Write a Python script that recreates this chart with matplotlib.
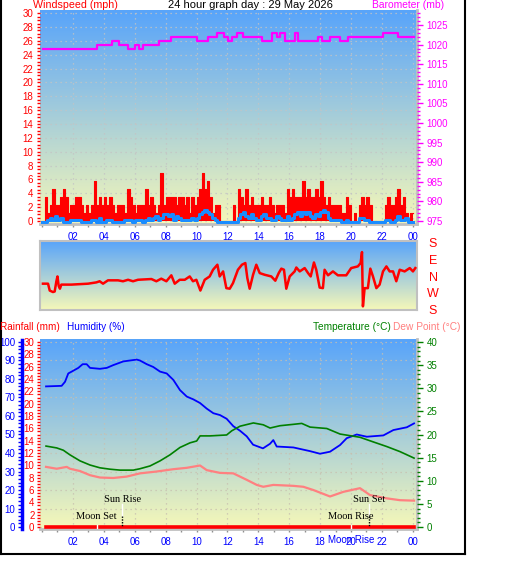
import numpy as np
import matplotlib
matplotlib.use("Agg")
import matplotlib.pyplot as plt
from matplotlib.ticker import MultipleLocator, FixedLocator
from matplotlib.colors import LinearSegmentedColormap
from matplotlib.lines import Line2D

plt.rcParams['font.family'] = ['Liberation Sans', 'DejaVu Sans']

# ---------------- data (hours of the day) ----------------
# wind gusts, 10-minute samples, in knots (chart shows mph)
GUST_KT = [
    0, 3, 1, 2, 4, 2,   # 00
    2, 3, 4, 3, 1, 2,   # 01
    2, 3, 3, 2, 1, 2,   # 02
    1, 2, 5, 2, 3, 2,   # 03
    3, 2, 3, 2, 1, 2,   # 04
    2, 2, 1, 4, 3, 2,   # 05
    1, 2, 2, 2, 4, 2,   # 06
    3, 2, 1, 2, 6, 2,   # 07
    3, 3, 3, 3, 2, 3,   # 08
    3, 2, 3, 1, 3, 2,   # 09
    3, 4, 6, 4, 5, 3,   # 10
    1, 2, 2, 0, 0, 0,   # 11
    0, 0, 2, 0, 4, 3,   # 12
    2, 4, 2, 3, 2, 2,   # 13
    2, 3, 2, 2, 3, 2,   # 14
    1, 2, 2, 2, 1, 4,   # 15
    3, 4, 3, 3, 3, 5,   # 16
    3, 4, 3, 3, 4, 3,   # 17
    5, 3, 2, 3, 2, 2,   # 18
    2, 2, 1, 1, 3, 2,   # 19
    0, 1, 0, 2, 3, 2,   # 20
    3, 2, 0, 0, 0, 0,   # 21
    0, 2, 3, 2, 2, 3,   # 22
    4, 2, 3, 1, 0, 1,   # 23
]
KT_TO_MPH = 1.1508

# average wind speed, 10-minute samples, mph
AVG_MPH = [
    0, 0, 0.3, 0.6, 0.3, 0.9,
    0.3, 0.6, 0, 0, 0, 0.3,
    0.3, 0.3, 0.3, 0, 0, 0,
    0, 0.3, 0.3, 0, 0.6, 0,
    0, 0.3, 0.3, 0, 0, 0,
    0, 0, 0.3, 0.3, 0.3, 0,
    0.3, 0.3, 0.3, 0, 0.3, 0.6,
    0.3, 0.6, 0.9, 0.3, 0.6, 1.2,
    1.2, 0.9, 1.2, 0.3, 0.9, 0.6,
    0.3, 0.3, 0.3, 0.3, 0.6, 0.3,
    0.6, 1.2, 1.5, 1.8, 1.5, 1.2,
    0.6, 0.3, 0, 0, 0, 0,
    0, 0, 0, 0, 0.6, 1.2,
    1.5, 0.9, 0.6, 1.2, 0.6, 0.3,
    0.3, 0.9, 1.2, 0.6, 0.6, 0.3,
    0.3, 0.9, 0.6, 0.3, 0.3, 0.9,
    0.3, 0.6, 1.2, 1.5, 0.9, 1.5,
    1.2, 1.5, 0.9, 0.6, 1.2, 0.9,
    1.5, 1.8, 1.5, 0.6, 0.3, 0.3,
    0.3, 0.3, 0, 0, 0.3, 0,
    0, 0, 0, 0.6, 0.6, 0.3,
    0.3, 0, 0, 0, 0, 0,
    0, 0.3, 0.3, 0, 0, 0.3,
    0.9, 0.3, 0.3, 0.6, 0, 0,
]

# barometer steps (start hour, mb)
BARO_T = [0.06, 3.56, 4.53, 4.98, 5.57, 6.02, 6.28, 6.54, 7.57, 8.35, 10.03,
          10.74, 11.33, 11.78, 12.04, 12.3, 12.62, 13.0, 14.24, 14.89, 15.2,
          15.4, 15.73, 16.38, 16.57, 17.86, 18.12, 18.64, 19.29, 19.81, 22.07,
          23.04, 24.1]
BARO_MB = [1019, 1020, 1021, 1020, 1019, 1020, 1019, 1020, 1021, 1022, 1021,
           1022, 1023, 1022, 1021, 1022, 1023, 1022, 1021, 1023, 1022,
           1023, 1021, 1023, 1021, 1022, 1021, 1022, 1021, 1022, 1023,
           1022, 1022]

# wind direction (hour, compass bearing)
DIR_T = [0.06, 0.39, 0.5, 0.71, 0.82, 0.93, 1.0, 1.08, 1.16, 1.25, 1.9, 2.98,
         3.52, 3.73, 3.95, 4.27, 4.92, 5.24, 5.57, 5.89, 6.21, 7.08, 7.4, 7.72,
         8.05, 8.37, 8.59, 8.91, 9.24, 9.56, 9.77, 9.99, 10.25, 10.53, 10.85,
         11.07, 11.35, 11.5, 11.72, 11.93, 12.15, 12.36, 12.68, 12.94, 13.16,
         13.29, 13.44, 13.66, 13.87, 14.09, 14.41, 14.84, 15.1, 15.32, 15.49,
         15.66, 15.81, 16.03, 16.35, 16.46, 16.68, 17.0, 17.22, 17.39, 17.6,
         17.75, 17.97, 18.18, 18.29, 18.51, 18.83, 19.15, 19.69, 20.01, 20.44,
         20.62, 20.71, 20.77, 20.88, 21.09, 21.25, 21.42, 21.64, 21.85, 22.07,
         22.29, 22.5, 22.72, 22.93, 23.15, 23.47, 23.8, 24.01, 24.16]
DIR_DEG = [327, 327, 290, 282, 285, 340, 6, 315, 300, 322, 322, 327,
           334, 340, 327, 345, 345, 340, 348, 340, 348, 352, 340, 354,
           340, 12, 327, 348, 348, 6, 340, 348, 290, 348, 6,
           42, 69, 6, 33, 303, 300, 330, 42, 69, 78,
           357, 300, 15, 69, 24, 15, 6, 343, 24, 48,
           42, 300, 6, 33, 54, 33, 51, 24, 6, 81,
           42, 306, 303, 42, 12, 33, 12, 12, 51, 60,
           78, 137, 205, 303, 303, 48, 6, 303, 322, 33,
           60, 33, 33, 340, 42, 33, 51, 33, 51]

# humidity (%)
HUM_T = [0.26, 1.27, 1.49, 1.7, 1.92, 2.35, 2.63, 2.89, 3.11, 3.75, 4.19, 4.61,
         5.26, 6.13, 6.34, 6.78, 7.2, 7.64, 8.07, 8.5, 8.93, 9.37, 9.79, 10.23,
         10.66, 11.09, 11.52, 11.95, 12.38, 12.82, 13.25, 13.66, 14.3, 14.76,
         14.97, 15.19, 16.27, 17.35, 17.99, 18.64, 19.29, 19.72, 20.37, 21.02,
         22.09, 22.74, 23.61, 24.08]
HUM = [76, 76.3, 78.5, 83, 84, 86, 88, 88, 86, 85.5, 86, 87.5,
       89.5, 90.5, 90, 88, 86.5, 84, 83, 79.5, 74, 70.5, 69, 67,
       64, 61.5, 60.5, 58.5, 54.5, 52, 49, 44.5, 42.5, 45,
       47, 43.5, 43, 41, 39.6, 40.7, 44.3, 48, 50, 48.8,
       49.5, 52.4, 53.9, 56]

# temperature (deg C)
TEMP_T = [0.26, 0.95, 1.38, 1.81, 2.46, 3.11, 3.75, 4.4, 5.05, 5.91, 6.34, 6.99,
          7.64, 8.28, 8.93, 9.58, 10.01, 10.23, 10.87, 11.95, 12.28, 12.82,
          13.68, 14.32, 14.76, 15.4, 16.27, 16.81, 17.35, 18.43, 19.29, 20.58,
          21.44, 22.31, 23.17, 24.08]
TEMP = [17.5, 17.1, 16.6, 15.6, 14.3, 13.4, 12.8, 12.5, 12.3, 12.3, 12.6, 13.2,
        14.3, 15.6, 17.2, 18.2, 18.6, 19.7, 19.7, 19.9, 20.8, 21.8,
        22.5, 22.1, 21.4, 21.9, 22.2, 22.4, 21.6, 21.3, 20.1, 19.4,
        18.4, 17.4, 16.3, 14.9]

# dew point (deg C)
DEW_T = [0.26, 0.95, 1.6, 1.81, 2.46, 3.11, 3.75, 4.61, 5.48, 6.34, 7.42, 8.5,
         9.37, 10.23, 10.66, 11.52, 12.38, 13.25, 13.9, 14.32, 14.97, 16.27,
         16.91, 17.56, 18.64, 19.5, 20.58, 21.23, 22.31, 23.17, 24.08]
DEW = [13.0, 12.6, 13.0, 12.6, 12.1, 11.2, 10.7, 10.6, 10.9, 11.6, 12.0, 12.5,
       12.8, 13.3, 12.3, 11.7, 11.6, 10.2, 9.1, 8.7, 9.1, 8.9,
       8.7, 8.0, 6.6, 7.6, 8.4, 6.9, 6.2, 5.8, 5.7]

# rainfall (mm)
RAIN_T = [0.26, 24.08]
RAIN_MM = [0, 0]

# sun / moon events (hour)
SUN_EVENTS = [("Sun Rise", 5.2), ("Sun Set", 21.18)]
MOON_EVENTS = [("Moon Set", 3.54), ("Moon Rise", 19.98)]

HOUR_TICKS = list(range(2, 25, 2))
HOUR_LABELS = ["02", "04", "06", "08", "10", "12", "14", "16", "18", "20", "22", "00"]

# ---------------- drawing ----------------
W, H = 529, 563
fig = plt.figure(figsize=(W / 100, H / 100), dpi=100)
XLIM = (-0.13, 24.27)


def panel(x0, y0, x1, y1):
    return fig.add_axes([x0 / W, 1 - y1 / H, (x1 - x0) / W, (y1 - y0) / H])


def ftext(x, y, s, **kw):
    fig.text(x / W, 1 - y / H, s, va='center', **kw)


sky = LinearSegmentedColormap.from_list("sky", ["#f6f8b8", "#58a4fa"])


def backdrop(ax):
    ax.imshow(np.linspace(0, 1, 256).reshape(-1, 1), cmap=sky, origin='lower',
              aspect='auto', extent=(0, 1, 0, 1), transform=ax.transAxes, zorder=0)


def hour_axis(ax):
    ax.set_xlim(XLIM)
    ax.xaxis.set_major_locator(FixedLocator(HOUR_TICKS))
    ax.set_xticklabels(HOUR_LABELS)
    ax.xaxis.set_minor_locator(MultipleLocator(1))
    ax.tick_params(axis='x', which='both', colors='#909090', length=2.5, width=1,
                   labelcolor='#0000ff', labelsize=7, pad=3)


def frame(ax):
    for s in ax.spines.values():
        s.set_visible(False)
    ax.spines['right'].set_visible(True)
    ax.spines['bottom'].set_visible(True)
    ax.spines['right'].set_color('#c0c0c0')
    ax.spines['bottom'].set_color('#c0c0c0')
    ax.spines['right'].set_linewidth(2)
    ax.spines['bottom'].set_linewidth(2)


GRID = dict(ls=(0, (1, 3)), lw=0.9)

# --- wind / barometer ---
ax1 = panel(40, 10, 417, 224)
backdrop(ax1)
t10 = np.append(np.arange(len(GUST_KT)) / 6, 24.0)
gust = np.append(np.array(GUST_KT) * KT_TO_MPH, GUST_KT[-1] * KT_TO_MPH)
avg = np.append(AVG_MPH, AVG_MPH[-1])
ax1.fill_between(t10, 0, gust, step='post', color='#ff0000', lw=0, zorder=2)
ax1.step(t10, gust, where='post', color='#ff0000', lw=0.8, zorder=2)
ax1.step(t10, avg - 0.2, where='post', color='#1a8cff', lw=2.2, zorder=3)
hour_axis(ax1)
ax1.set_ylim(-0.43, 30.45)
ax1.yaxis.set_major_locator(MultipleLocator(2))
ax1.yaxis.set_minor_locator(MultipleLocator(0.5))
ax1.tick_params(axis='y', which='both', colors='#ff0000', length=2, width=1,
                labelsize=7, pad=3)
ax1.grid(True, which='major', color='#c4c4c4', **GRID)
frame(ax1)

ax1b = ax1.twinx()
ax1b.step(BARO_T, BARO_MB, where='post', color='#ff00ff', lw=1.6, zorder=4)
ax1b.set_ylim(974.23, 1028.83)
ax1b.yaxis.set_major_locator(MultipleLocator(5))
ax1b.yaxis.set_minor_locator(MultipleLocator(1))
ax1b.tick_params(axis='y', which='major', colors='#ff00ff', length=4, width=1,
                 labelsize=7, pad=3)
ax1b.tick_params(axis='y', which='minor', colors='#ff00ff', length=2, width=1)
for s in ax1b.spines.values():
    s.set_visible(False)

# --- wind direction ---
ax2 = panel(40, 241, 417, 310)
backdrop(ax2)
bearing = np.array(DIR_DEG)
ax2.plot(DIR_T, np.where(bearing > 180, bearing - 360, bearing), color='#ff0000',
         lw=1.8, zorder=3)
ax2.set_xlim(XLIM)
ax2.set_ylim(-174.6, 196.6)
ax2.set_xticks([])
ax2.set_yticks([])
for s in ax2.spines.values():
    s.set_color('#c0c0c0')
    s.set_linewidth(1.5)
for lab, yv in zip(["S", "E", "N", "W", "S"], [180, 90, 0, -90, -180]):
    ax2.text(1 + 16 / 377, yv, lab, transform=ax2.get_yaxis_transform(),
             ha='center', va='center', color='#ff0000', fontsize=9, clip_on=False)

# --- rain / humidity / temperature ---
ax3 = panel(40, 339, 417, 529)
backdrop(ax3)
ax3.plot(HUM_T, HUM, color='#0000ff', lw=1.3, zorder=3)
hour_axis(ax3)
ax3.set_ylim(-1.08, 101.62)
ax3.yaxis.set_major_locator(MultipleLocator(10))
ax3.yaxis.set_minor_locator(MultipleLocator(2))
ax3.tick_params(axis='y', which='both', colors='#0000ff', length=3, width=1,
                labelsize=7, pad=1.5)
ax3.grid(True, which='major', color='#c8c0b0', **GRID)
frame(ax3)
ax3.spines['left'].set_visible(True)
ax3.spines['left'].set_position(('axes', -18.5 / 377))
ax3.spines['left'].set_color('#0000ff')
ax3.spines['left'].set_linewidth(2.5)
ax3.spines['left'].set_bounds(-1.08, 101.0)

ax3r = ax3.twinx()
ax3r.yaxis.tick_left()
ax3r.plot(RAIN_T, RAIN_MM, color='#ff0000', lw=2.6, zorder=3)
ax3r.set_ylim(-0.32, 30.49)
ax3r.yaxis.set_major_locator(MultipleLocator(2))
ax3r.yaxis.set_minor_locator(MultipleLocator(0.5))
ax3r.tick_params(axis='y', which='both', colors='#ff0000', length=2, width=1,
                 labelsize=7, pad=2)
for s in ax3r.spines.values():
    s.set_visible(False)

ax3t = ax3.twinx()
ax3t.plot(TEMP_T, TEMP, color='#008000', lw=1.2, zorder=3)
ax3t.plot(DEW_T, DEW, color='#ff8080', lw=1.6, zorder=3)
ax3t.set_ylim(-0.43, 40.65)
ax3t.yaxis.set_major_locator(MultipleLocator(5))
ax3t.yaxis.set_minor_locator(MultipleLocator(1))
ax3t.tick_params(axis='y', which='major', colors='#008000', length=4, width=1,
                 labelsize=7, pad=3)
ax3t.tick_params(axis='y', which='minor', colors='#008000', length=2, width=1)
for s in ax3t.spines.values():
    s.set_visible(False)

tr = ax3t.get_xaxis_transform()
for name, h in SUN_EVENTS:
    ax3t.text(h, 0.154, name, transform=tr, ha='center', va='center', fontsize=7.5,
              family=['Liberation Serif', 'DejaVu Serif'], color='black', zorder=6)
    ax3t.plot([h, h], [0.132, 0.068], transform=tr, color='white', lw=1, zorder=5)
    ax3t.plot([h, h], [0.068, 0.0105], transform=tr, color='black', lw=1,
              ls=(0, (1, 1)), zorder=5)
for name, h in MOON_EVENTS:
    ax3t.text(h, 0.065, name, transform=tr, ha='center', va='center', fontsize=7.5,
              family=['Liberation Serif', 'DejaVu Serif'], color='black', zorder=6)
    ax3t.plot([h, h], [0.021, 0.0], transform=tr, color='white', lw=1, zorder=5)
# the chart also prints the moon rise in the hour-label row, over "20"
ax3t.text(MOON_EVENTS[1][1], -0.058, MOON_EVENTS[1][0], transform=tr, ha='center',
          va='center', fontsize=7, color='#0000ff', clip_on=False)

# --- headings ---
ftext(33, 5, "Windspeed (mph)", color='#ff0000', fontsize=7.7, ha='left')
ftext(250, 5, "24 hour graph day : 29 May 2026", color='black', fontsize=8, ha='center')
ftext(372, 5, "Barometer (mb)", color='#ff00ff', fontsize=7.4, ha='left')
ftext(0, 327, "Rainfall (mm)", color='#ff0000', fontsize=7.2, ha='left')
ftext(67, 327, "Humidity (%)", color='#0000ff', fontsize=7.2, ha='left')
ftext(313, 327, "Temperature (°C)", color='#008000', fontsize=7.3, ha='left')
ftext(393, 327, "Dew Point (°C)", color='#ff8080', fontsize=7.3, ha='left')

# outer window frame
fx = lambda x: x / W
fy = lambda y: 1 - y / H
fig.add_artist(Line2D([fx(0.8), fx(0.8)], [fy(0), fy(554)], color='black', lw=1.5))
fig.add_artist(Line2D([fx(465), fx(465)], [fy(0), fy(554)], color='black', lw=1.5))
fig.add_artist(Line2D([fx(0), fx(465)], [fy(554), fy(554)], color='black', lw=1.5))

fig.savefig("out.png", dpi=100)
